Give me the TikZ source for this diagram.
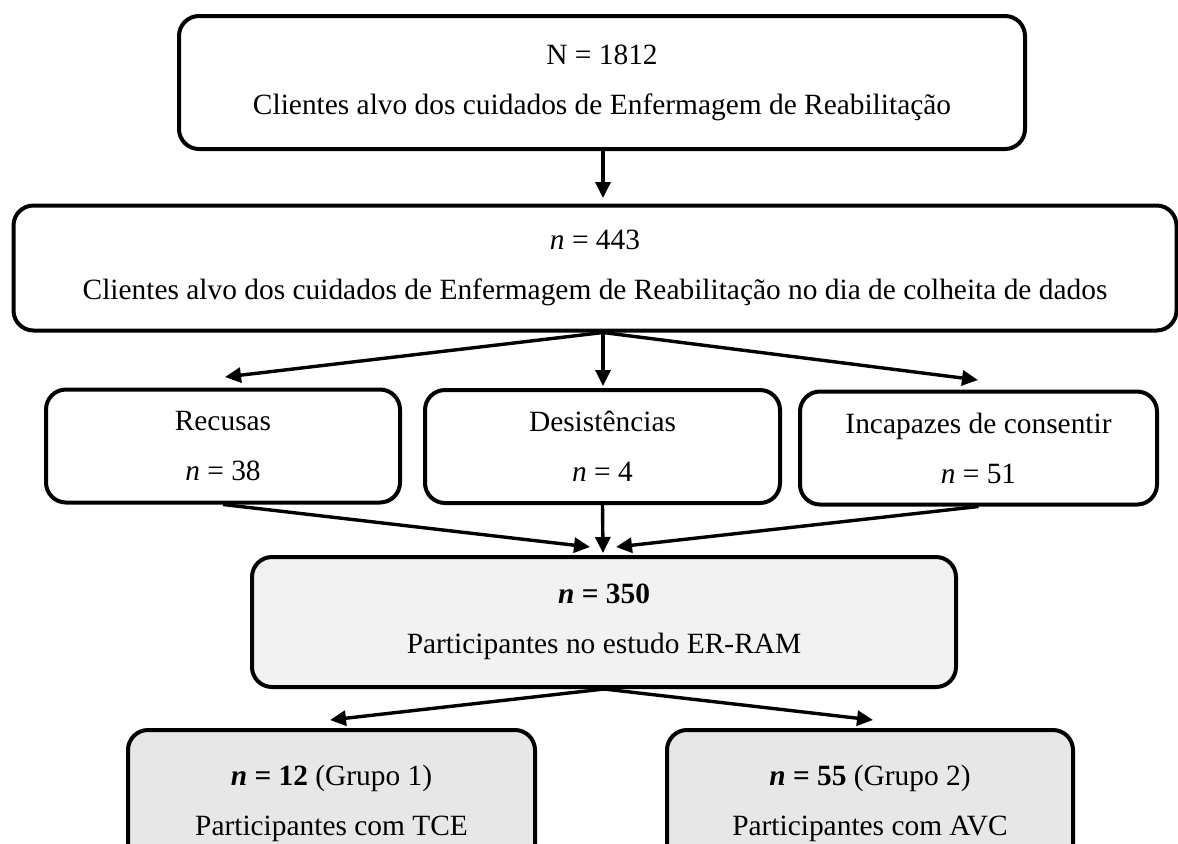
\documentclass[tikz,border=0pt]{standalone}
\usepackage{fontspec}
\setmainfont{Liberation Serif}
\usetikzlibrary{arrows.meta}
\definecolor{lightfill}{HTML}{F2F2F2}
\definecolor{midfill}{HTML}{E7E7E7}
\begin{document}
\begin{tikzpicture}[x=0.5pt,y=-0.5pt,
  box/.style={draw=black, line width=2pt, rounded corners=10pt, align=center, inner sep=0pt,
    font=\fontsize{14.7}{25}\selectfont},
  conn/.style={line width=1.7pt, -{Triangle[length=8pt,width=7.5pt]}}]
\useasboundingbox (0,0) rectangle (1178,843);
\clip (0,0) rectangle (1178,843);
\node[box, minimum width=423pt, minimum height=66.5pt] (top) at (602,82.5)
  {N = 1812\\Clientes alvo dos cuidados de Enfermagem de Reabilitação};
\node[box, minimum width=581.5pt, minimum height=62.5pt] (all) at (595,268)
  {\textit{n} = 443\\Clientes alvo dos cuidados de Enfermagem de Reabilitação no dia de colheita de dados};
\node[box, minimum width=177pt, minimum height=56.5pt] (rec) at (223,446)
  {Recusas\\\textit{n} = 38};
\node[box, minimum width=177.5pt, minimum height=56.5pt] (des) at (602.5,446.5)
  {Desistências\\\textit{n} = 4};
\node[box, minimum width=178.5pt, minimum height=56.5pt] (inc) at (978.5,448)
  {Incapazes de consentir\\\textit{n} = 51};
\node[box, fill=lightfill, minimum width=352pt, minimum height=65pt] (part) at (604,622)
  {\textbf{\textit{n} = 350}\\Participantes no estudo ER-RAM};
\node[box, fill=midfill, minimum width=203.5pt, minimum height=73pt] (g1) at (331.5,803)
  {\textbf{\textit{n} = 12} (Grupo 1)\\Participantes com TCE};
\node[box, fill=midfill, minimum width=203pt, minimum height=73pt] (g2) at (870,803)
  {\textbf{\textit{n} = 55} (Grupo 2)\\Participantes com AVC};
\coordinate (t0) at (603,198);
\coordinate (t1) at (225,377);
\coordinate (t2) at (603,386);
\coordinate (t3) at (978,380);
\coordinate (t4) at (590,547);
\coordinate (t5) at (603,553);
\coordinate (t6) at (616,547);
\coordinate (t7) at (330,720);
\coordinate (t8) at (873,720);
\draw[conn] (top.south -| t0) -- (t0);
\draw[conn] (all.south -| t2) -- (t1);
\draw[conn] (all.south -| t2) -- (t2);
\draw[conn] (all.south -| t2) -- (t3);
\draw[conn] (rec.south) -- (t4);
\draw[conn] (des.south) -- (t5);
\draw[conn] (inc.south) -- (t6);
\draw[conn] (part.south) -- (t7);
\draw[conn] (part.south) -- (t8);
\end{tikzpicture}
\end{document}
